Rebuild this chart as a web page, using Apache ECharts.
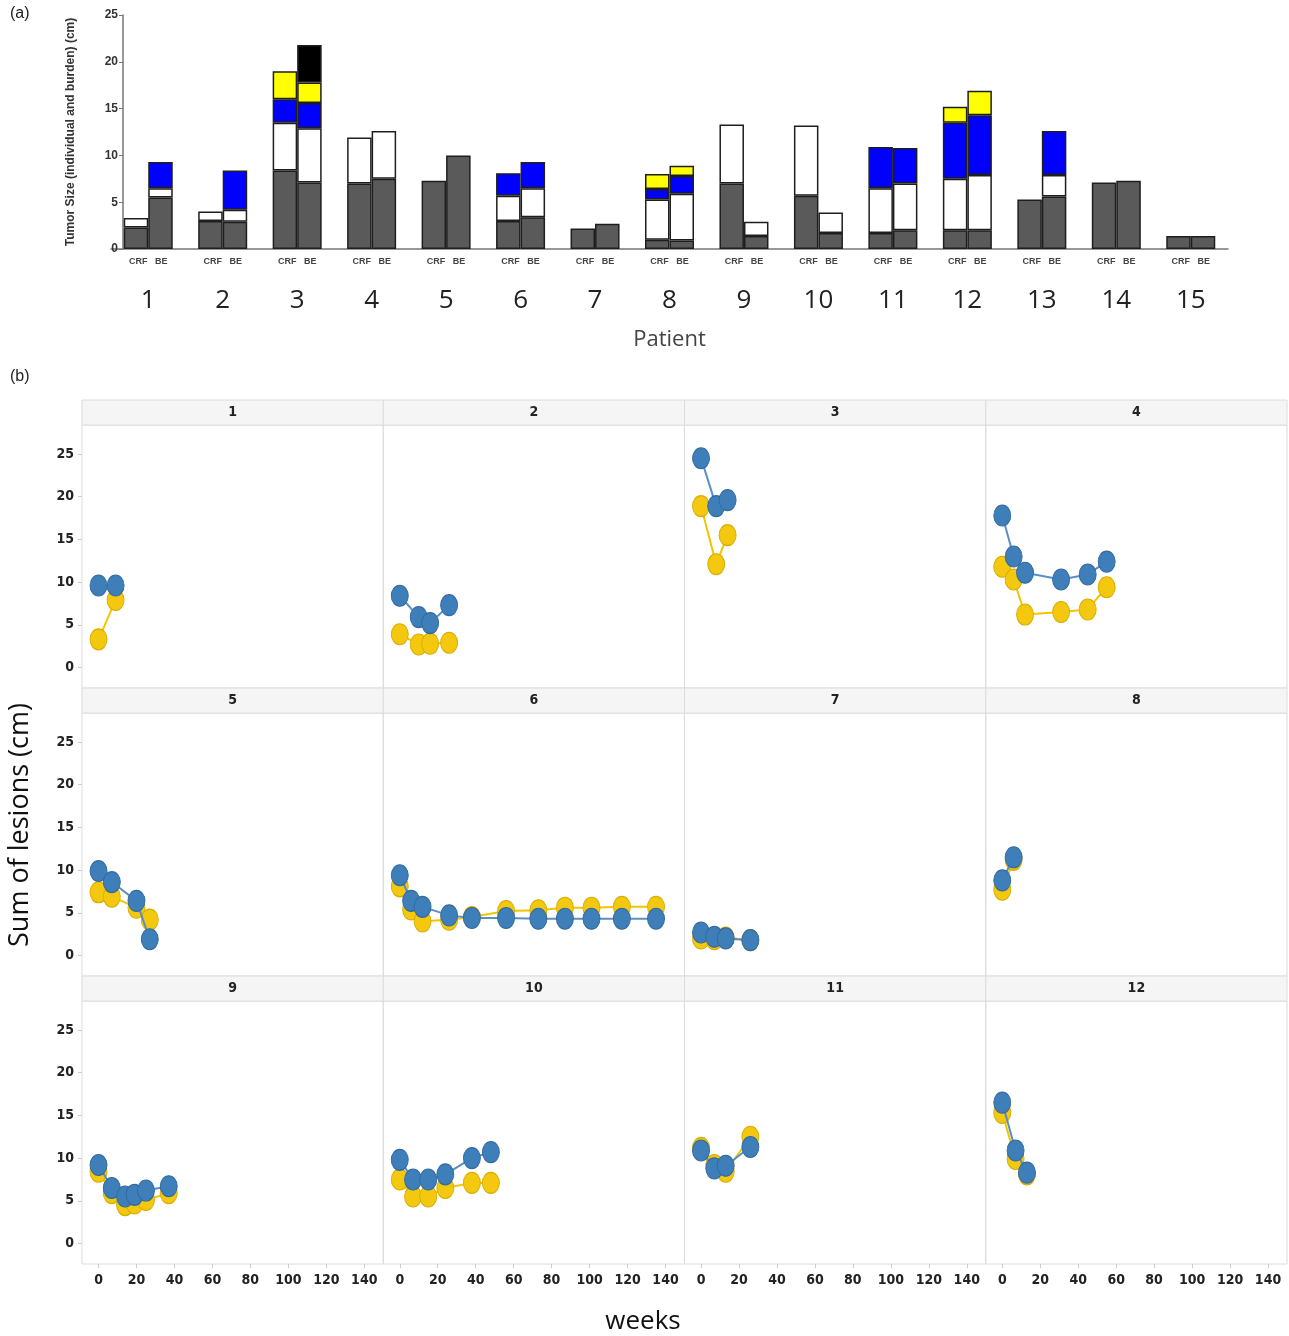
<!DOCTYPE html>
<html>
<head>
<meta charset="utf-8">
<script src="https://cdn.jsdelivr.net/npm/echarts@6/dist/echarts.min.js"></script>
<style>
  html, body { margin: 0; padding: 0; background: #fff; }
  #chart { width: 1289px; height: 1336px; }
</style>
</head>
<body>
<div id="chart"></div>
<script>
// ---- (a) tumour size per patient, CRF vs BE, stacked by lesion ----
const patients = ['1', '2', '3', '4', '5', '6', '7', '8', '9', '10', '11', '12', '13', '14', '15'];
// segment sizes (cm), bottom to top
const crfLesion1 = [2.3, 3.0, 8.4, 7.0, 7.3, 3.0, 2.2, 1.0, 7.0, 5.7, 1.7, 2.0, 5.3, 7.1, 1.4];
const crfLesion2 = [1.0, 1.0, 5.1, 4.9, null, 2.7, null, 4.3, 6.3, 7.5, 4.8, 5.5, null, null, null];
const crfLesion3 = [null, null, 2.5, null, null, 2.4, null, 1.1, null, null, 4.4, 6.0, null, null, null];
const crfLesion4 = [null, null, 3.0, null, null, null, null, 1.6, null, null, null, 1.7, null, null, null];
const beLesion1 = [5.5, 2.9, 7.1, 7.5, 10.0, 3.4, 2.7, 0.9, 1.4, 1.7, 2.0, 2.0, 5.6, 7.3, 1.4];
const beLesion2 = [1.0, 1.3, 5.8, 5.1, null, 3.1, null, 5.0, 1.5, 2.2, 5.0, 5.9, 2.3, null, null];
const beLesion3 = [2.8, 4.2, 2.7, null, null, 2.8, null, 1.9, null, null, 3.8, 6.4, 4.7, null, null];
const beLesion4 = [null, null, 2.2, null, null, null, null, 1.1, null, null, null, 2.6, null, null, null];
const beLesion5 = [null, null, 4.0, null, null, null, null, null, null, null, null, null, null, null, null];

// ---- (b) sum of lesions over time, one panel per patient ----
const panelTitles = ['1', '2', '3', '4', '5', '6', '7', '8', '9', '10', '11', '12'];
const weeks = [
  [0, 9],
  [0, 10, 16, 26],
  [0, 8, 14],
  [0, 6, 12, 31, 45, 55],
  [0, 7, 20, 27],
  [0, 6, 12, 26, 38, 56, 73, 87, 101, 117, 135],
  [0, 7, 13, 26],
  [0, 6],
  [0, 7, 14, 19, 25, 37],
  [0, 7, 15, 24, 38, 48],
  [0, 7, 13, 26],
  [0, 7, 13]
];
const crfSum = [
  [3.3, 7.9],
  [3.9, 2.7, 2.8, 2.9],
  [18.9, 12.1, 15.5],
  [11.8, 10.3, 6.2, 6.5, 6.8, 9.4],
  [7.4, 6.9, 5.6, 4.2],
  [8.1, 5.4, 4.0, 4.2, 4.5, 5.2, 5.3, 5.6, 5.6, 5.7, 5.7],
  [2.0, 1.9, 2.1, 1.8],
  [7.7, 11.2],
  [8.4, 5.9, 4.5, 4.7, 5.1, 5.9],
  [7.5, 5.5, 5.5, 6.5, 7.1, 7.1],
  [11.2, 9.2, 8.4, 12.5],
  [15.3, 9.9, 8.1]
];
const beSum = [
  [9.6, 9.6],
  [8.4, 5.9, 5.2, 7.3],
  [24.5, 18.9, 19.6],
  [17.8, 13.0, 11.1, 10.3, 10.9, 12.4],
  [9.9, 8.6, 6.4, 1.9],
  [9.4, 6.4, 5.7, 4.7, 4.4, 4.4, 4.3, 4.3, 4.3, 4.3, 4.3],
  [2.7, 2.2, 2.0, 1.8],
  [8.8, 11.5],
  [9.2, 6.5, 5.5, 5.7, 6.2, 6.7],
  [9.8, 7.5, 7.5, 8.1, 10.0, 10.7],
  [10.9, 8.8, 9.1, 11.3],
  [16.5, 10.9, 8.3]
];
const yTicks = [0, 5, 10, 15, 20, 25];
const xTicks = [0, 20, 40, 60, 80, 100, 120, 140];

const narrow = "'Liberation Sans Narrow','DejaVu Sans Condensed','Roboto',sans-serif";
const chart = echarts.init(document.getElementById('chart'), null, { renderer: 'canvas' });

function stackBar(stack, data, color) {
  return {
    type: 'bar', stack: stack, data: data, xAxisIndex: 0, yAxisIndex: 0,
    barWidth: 24.5, barGap: '0%',
    itemStyle: { color: color, borderColor: '#1e1e1e', borderWidth: 1.5 },
    emphasis: { disabled: true }
  };
}

const grids = [{ left: 111, top: 15, width: 1117, height: 234, outerBoundsMode: 'none' }];
const xAxes = [{
  type: 'category', gridIndex: 0, data: patients,
  axisLine: { lineStyle: { color: '#777', width: 1.5 } },
  axisTick: { show: false },
  axisLabel: {
    interval: 0, margin: 6,
    formatter: v => '{s|CRF   BE}\n{n|' + v + '}',
    rich: {
      s: { fontSize: 9, fontWeight: 'bold', color: '#444', fontFamily: 'Liberation Sans', lineHeight: 14 },
      n: { fontSize: 26, color: '#222', fontFamily: 'Open Sans', lineHeight: 64 }
    }
  },
  name: 'Patient', nameLocation: 'middle', nameGap: 80,
  nameTextStyle: { fontSize: 22, color: '#444', fontFamily: 'Open Sans' }
}];
const yAxes = [{
  type: 'value', gridIndex: 0, min: 0, max: 25, interval: 5, offset: -12,
  axisLine: { show: true, lineStyle: { color: '#777', width: 1.5 } },
  axisTick: { show: true, length: 4, lineStyle: { color: '#777' } },
  axisLabel: { fontSize: 12, fontWeight: 'bold', color: '#333', fontFamily: 'Liberation Sans', margin: 5 },
  splitLine: { show: false },
  name: 'Tumor Size (individual and burden) (cm)', nameLocation: 'middle', nameGap: 46, nameRotate: 90,
  nameTextStyle: { fontSize: 12, fontWeight: 'bold', color: '#333', fontFamily: 'Liberation Sans' }
}];
const series = [
  stackBar('CRF', crfLesion1, '#5a5a5a'),
  stackBar('CRF', crfLesion2, '#ffffff'),
  stackBar('CRF', crfLesion3, '#0000ff'),
  stackBar('CRF', crfLesion4, '#ffff00'),
  stackBar('BE', beLesion1, '#5a5a5a'),
  stackBar('BE', beLesion2, '#ffffff'),
  stackBar('BE', beLesion3, '#0000ff'),
  stackBar('BE', beLesion4, '#ffff00'),
  stackBar('BE', beLesion5, '#000000')
];

// facet grid for (b)
const panelLeft = 82, panelW = (1287 - 82) / 4, panelTop = 425, panelH = 263, stripH = 25;
const graphics = [
  { type: 'text', x: 10, y: 6, style: { text: '(a)', fontSize: 16, fill: '#222', fontFamily: 'Liberation Sans' } },
  { type: 'text', x: 10, y: 369, style: { text: '(b)', fontSize: 16, fill: '#222', fontFamily: 'Liberation Sans' } },
  { type: 'text', x: 20, y: 825, rotation: Math.PI / 2,
    style: { text: 'Sum of lesions (cm)', fontSize: 27, fill: '#111', fontFamily: 'Open Sans', align: 'center', verticalAlign: 'middle' } },
  { type: 'text', x: 643, y: 1322,
    style: { text: 'weeks', fontSize: 26, fill: '#111', fontFamily: 'Open Sans', align: 'center', verticalAlign: 'middle' } }
];

panelTitles.forEach((title, i) => {
  const row = Math.floor(i / 4), col = i % 4;
  const gi = i + 1;
  const left = panelLeft + col * panelW;
  const top = panelTop + row * (panelH + stripH);
  grids.push({ left: left, top: top, width: panelW, height: panelH, show: true,
    borderColor: '#dcdcdc', borderWidth: 1, outerBoundsMode: 'none' });
  graphics.push({ type: 'rect', shape: { x: left, y: top - stripH, width: panelW, height: stripH },
    style: { fill: '#f5f5f5', stroke: '#dcdcdc', lineWidth: 1 } });
  graphics.push({ type: 'text', x: left + panelW / 2, y: top - stripH / 2,
    style: { text: title, fontSize: 14, fontWeight: 'bold', fill: '#222', fontFamily: narrow, align: 'center', verticalAlign: 'middle' } });
  xAxes.push({
    type: 'value', gridIndex: gi, min: -8.7, max: 150,
    axisLine: { show: false, onZero: false },
    axisTick: { show: row === 2, length: 4, customValues: xTicks, lineStyle: { color: '#ccc' } },
    axisLabel: { show: row === 2, customValues: xTicks, fontSize: 14, fontWeight: 'bold', color: '#222', fontFamily: narrow, margin: 9 },
    splitLine: { show: false }
  });
  yAxes.push({
    type: 'value', gridIndex: gi, min: -2.4, max: 28.4,
    axisLine: { show: false, onZero: false },
    axisTick: { show: col === 0, length: 4, customValues: yTicks, lineStyle: { color: '#ccc' } },
    axisLabel: { show: col === 0, customValues: yTicks, fontSize: 14, fontWeight: 'bold', color: '#222', fontFamily: narrow, margin: 8 },
    splitLine: { show: false }
  });
  const crfPts = weeks[i].map((w, k) => [w, crfSum[i][k]]);
  const bePts = weeks[i].map((w, k) => [w, beSum[i][k]]);
  series.push({
    type: 'line', name: 'CRF', xAxisIndex: gi, yAxisIndex: gi, data: crfPts,
    symbol: 'circle', symbolSize: [17, 21],
    lineStyle: { color: '#f2c500', width: 2 },
    itemStyle: { color: '#f3c80f', borderColor: '#d9ad00', borderWidth: 1, opacity: 1 },
    emphasis: { disabled: true }, z: 3
  });
  series.push({
    type: 'line', name: 'BE', xAxisIndex: gi, yAxisIndex: gi, data: bePts,
    symbol: 'circle', symbolSize: [17, 21],
    lineStyle: { color: '#5a8fc4', width: 2 },
    itemStyle: { color: '#3f7fb9', borderColor: '#326a9f', borderWidth: 1, opacity: 1 },
    emphasis: { disabled: true }, z: 4
  });
});

chart.setOption({
  animation: false,
  grid: grids,
  xAxis: xAxes,
  yAxis: yAxes,
  series: series,
  graphic: graphics
});
</script>
</body>
</html>
